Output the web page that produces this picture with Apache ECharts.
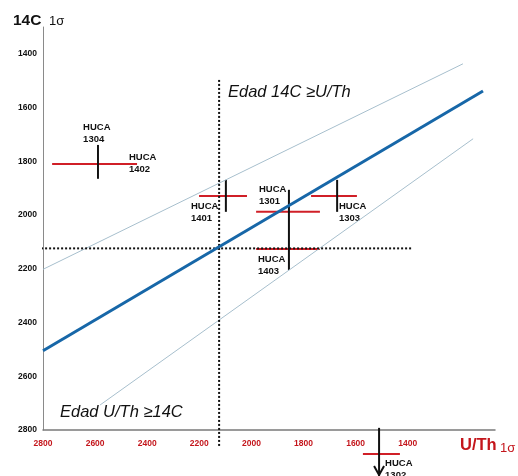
<!DOCTYPE html>
<html><head><meta charset="utf-8">
<script src="https://cdn.jsdelivr.net/npm/echarts@6/dist/echarts.min.js"></script>
<style>html,body{margin:0;padding:0;background:#fff}#c{width:518px;height:476px}</style>
</head><body><div id="c"></div>
<script>
// Tick labels
const xTicks = [2800, 2600, 2400, 2200, 2000, 1800, 1600, 1400];
const yTicks = [1400, 1600, 1800, 2000, 2200, 2400, 2600, 2800];

// Reference lines [U/Th, 14C]
const blueLine  = [[2800, 2505], [1111, 1538]];
const upperLine = [[2800, 2202], [1188, 1437]];
const lowerLine = [[2581, 2707], [1149, 1716]];
const vDotted   = [[2124, 1497], [2124, 2863]];
const hDotted   = [[2838, 2124], [1380, 2124]];

// U/Th 1σ ranges (red): [14C, U/Th high, U/Th low]
const redBars = [
  [1810, 2765, 2439],
  [1929, 2201, 2017],
  [1988, 1982, 1737],
  [2126, 1982, 1737],
  [1929, 1771, 1595],
  [2889, 1572, 1430]
];
// 14C 1σ ranges (black): [U/Th, 14C low, 14C high, arrow]
const blackBars = [
  [2589, 1739, 1865, 0],
  [2098, 1869, 1988, 0],
  [1856, 1906, 2204, 0],
  [1671, 1869, 1988, 0],
  [1510, 2792, 2971, 1]
];
// Sample labels
const labelNames = ['HUCA\n1304', 'HUCA\n1402', 'HUCA\n1401', 'HUCA\n1301', 'HUCA\n1303', 'HUCA\n1403', 'HUCA\n1302'];
const labelX = [2646, 2470, 2232, 1971, 1664, 1975, 1487];
const labelY = [1652, 1764, 1946, 1883, 1946, 2143, 2903];

const FONT = '"Liberation Sans", Arial, sans-serif';
const RED = '#c4161c';

const chart = echarts.init(document.getElementById('c'));

const segSeries = (data, color, width, toSeg) => ({
  type: 'custom',
  clip: false,
  silent: true,
  data: data,
  renderItem: (params, api) => {
    const d = data[params.dataIndex];
    const s = toSeg(d);
    const p1 = api.coord(s[0]), p2 = api.coord(s[1]);
    const children = [{
      type: 'line',
      shape: {x1: p1[0], y1: p1[1], x2: p2[0], y2: p2[1]},
      style: {stroke: color, lineWidth: width}
    }];
    if (s[2]) {
      children.push({
        type: 'polyline',
        shape: {points: [[p2[0] - 5, p2[1] - 10], [p2[0], p2[1] - 1], [p2[0] + 5, p2[1] - 10]]},
        style: {stroke: color, lineWidth: 2, fill: null}
      });
    }
    return {type: 'group', children: children};
  }
});

const lineSeries = (data, color, width, type) => ({
  type: 'line', data: data, symbol: 'none', clip: false, silent: true,
  lineStyle: {color: color, width: width, type: type || 'solid'}
});

chart.setOption({
  animation: false,
  grid: {left: 43, right: 23, top: 27, bottom: 46, containLabel: false},
  xAxis: {
    type: 'value', inverse: true, min: 1065, max: 2800,
    axisLine: {show: true, lineStyle: {color: '#7a7a7a', width: 1.5}},
    axisTick: {show: false},
    splitLine: {show: false},
    axisLabel: {customValues: xTicks, formatter: v => String(v), color: RED, fontSize: 8.5, fontWeight: 'bold', fontFamily: FONT, margin: 9}
  },
  yAxis: {
    type: 'value', inverse: true, min: 1300, max: 2800,
    axisLine: {show: true, lineStyle: {color: '#8a8a8a', width: 1}},
    axisTick: {show: false},
    splitLine: {show: false},
    axisLabel: {customValues: yTicks, formatter: v => String(v), color: '#111', fontSize: 8.5, fontWeight: 'bold', fontFamily: FONT, margin: 6}
  },
  series: [
    lineSeries(upperLine, '#a7bfcd', 1),
    lineSeries(lowerLine, '#a7bfcd', 1),
    lineSeries(vDotted, '#111', 2, [2, 2]),
    lineSeries(hDotted, '#111', 2, [2, 2]),
    lineSeries(blueLine, '#1767a8', 3),
    segSeries(redBars, '#d01f27', 2, d => [[d[1], d[0]], [d[2], d[0]]]),
    segSeries(blackBars, '#111', 2, d => [[d[0], d[1]], [d[0], d[2]], d[3]]),
    {
      type: 'custom', clip: false, silent: true,
      data: labelNames.map((n, i) => [labelX[i], labelY[i]]),
      renderItem: (params, api) => {
        const p = api.coord([labelX[params.dataIndex], labelY[params.dataIndex]]);
        return {
          type: 'text',
          style: {
            text: labelNames[params.dataIndex], x: p[0], y: p[1],
            fontSize: 9.5, fontWeight: 'bold', fontFamily: FONT, fill: '#111',
            lineHeight: 12, verticalAlign: 'top', align: 'left'
          }
        };
      }
    }
  ],
  graphic: [
    {type: 'text', left: 13, top: 13, style: {text: '14C', fontSize: 15.5, fontWeight: 'bold', fontFamily: FONT, fill: '#111'}},
    {type: 'text', left: 49, top: 15, style: {text: '1σ', fontSize: 13, fontFamily: FONT, fill: '#111'}},
    {type: 'text', left: 460, top: 437, style: {text: 'U/Th', fontSize: 16.5, fontWeight: 'bold', fontFamily: FONT, fill: RED}},
    {type: 'text', left: 500, top: 442, style: {text: '1σ', fontSize: 13, fontFamily: FONT, fill: RED}},
    {type: 'text', left: 228, top: 84, style: {text: 'Edad 14C ≥U/Th', fontSize: 16.5, fontStyle: 'italic', fontFamily: FONT, fill: '#111'}},
    {type: 'text', left: 60, top: 404, style: {text: 'Edad U/Th ≥14C', fontSize: 16.5, fontStyle: 'italic', fontFamily: FONT, fill: '#111'}}
  ]
});
</script></body></html>
